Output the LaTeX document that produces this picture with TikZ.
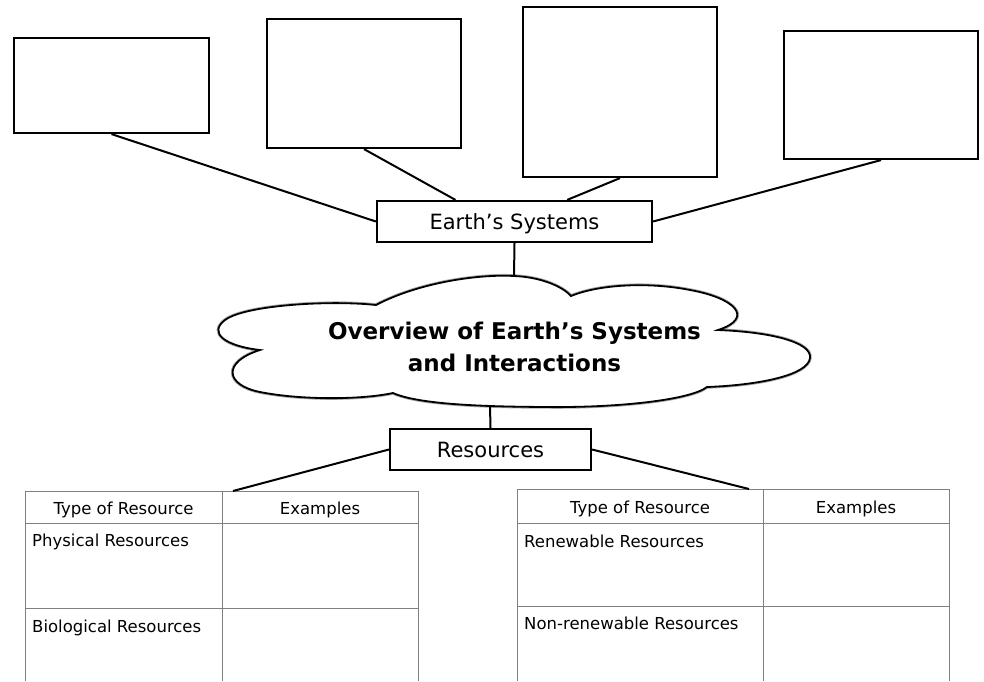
\documentclass[tikz,border=0pt]{standalone}
\usepackage{fontspec}
\setmainfont{DejaVu Sans}
\usetikzlibrary{calc}
\tikzset{
  blankbox/.style={draw, line width=2.2pt, minimum width=194pt, inner sep=0pt},
  labelbox/.style={draw, line width=2.2pt, inner sep=0pt, minimum height=41pt,
    text height=16pt, text depth=0pt, font=\fontsize{21}{25}\selectfont},
  link/.style={line width=2pt},
  tablerule/.style={draw=black!50, line width=0.9pt},
  cellhead/.style={anchor=base, inner sep=0pt, font=\fontsize{16.5}{19}\selectfont},
  celltext/.style={anchor=base west, inner sep=0pt, font=\fontsize{16.5}{19}\selectfont},
}
\begin{document}
\begin{tikzpicture}[x=1pt, y=-1pt]
      \useasboundingbox (0,0) rectangle (984,681);
      \node[blankbox, minimum width=195pt, minimum height=95pt] (box1) at (111.5,85.5) {};
      \node[blankbox, minimum height=129pt] (box2) at (364,83.5) {};
      \node[blankbox, minimum height=170pt] (box3) at (620,92) {};
      \node[blankbox, minimum height=128pt] (box4) at (881,95) {};
      \node[labelbox, minimum width=275pt] (earth) at (514.5,221.5) {Earth’s Systems};
      \node[labelbox, minimum width=201pt] (res) at (490.5,449.5) {Resources};
      \draw[line width=3.5pt, black!35]
        (376,305) .. controls (420,282) and (480,274) .. (514,276)
        .. controls (540,277) and (562,286) .. (571,296)
        .. controls (600,284) and (650,282) .. (690,290)
        .. controls (735,298) and (755,318) .. (718,330)
        .. controls (770,332) and (812,342) .. (810,358)
        .. controls (808,375) and (760,385) .. (707,387)
        .. controls (690,400) and (620,407) .. (560,407)
        .. controls (490,407) and (420,405) .. (393,393)
        .. controls (360,400) and (300,400) .. (260,392)
        .. controls (225,385) and (222,362) .. (260,350)
        .. controls (225,346) and (208,333) .. (225,320)
        .. controls (245,305) and (330,300) .. (376,305) -- cycle;
      \draw[line width=1.8pt, fill=white]
        (376,305) .. controls (420,282) and (480,274) .. (514,276)
        .. controls (540,277) and (562,286) .. (571,296)
        .. controls (600,284) and (650,282) .. (690,290)
        .. controls (735,298) and (755,318) .. (718,330)
        .. controls (770,332) and (812,342) .. (810,358)
        .. controls (808,375) and (760,385) .. (707,387)
        .. controls (690,400) and (620,407) .. (560,407)
        .. controls (490,407) and (420,405) .. (393,393)
        .. controls (360,400) and (300,400) .. (260,392)
        .. controls (225,385) and (222,362) .. (260,350)
        .. controls (225,346) and (208,333) .. (225,320)
        .. controls (245,305) and (330,300) .. (376,305) -- cycle;
      \node[align=center, inner sep=0pt, font=\fontsize{23}{32}\selectfont\bfseries] (title)
        at (514.5,347) {Overview of Earth’s Systems\\and Interactions};
      \coordinate (cloudtop) at (514,276);
      \coordinate (cloudbot) at (490,406);
      \coordinate (lefttab) at (233,491);
      \coordinate (righttab) at (749,489);
      \draw[tablerule] (25,681) -- (25,491) -- (418,491) -- (418,681);
      \draw[tablerule] (222,491) -- (222,681);
      \draw[tablerule] (25,523) -- (418,523);
      \draw[tablerule] (25,608) -- (418,608);
      \draw[tablerule] (517,681) -- (517,489) -- (949,489) -- (949,681);
      \draw[tablerule] (763,489) -- (763,681);
      \draw[tablerule] (517,523) -- (949,523);
      \draw[tablerule] (517,606) -- (949,606);
      \node[cellhead] (lhead1) at (123.5,514) {Type of Resource};
      \node[cellhead] (lhead2) at (320,514) {Examples};
      \node[celltext] (phys) at (32,546) {Physical Resources};
      \node[celltext] (bio) at (32,632) {Biological Resources};
      \node[cellhead] (rhead1) at (640,513) {Type of Resource};
      \node[cellhead] (rhead2) at (856,513) {Examples};
      \node[celltext] (renew) at (524,547) {Renewable Resources};
      \node[celltext] (nonrenew) at (524,629) {Non-renewable Resources};
      \begin{scope}[link]
        \draw (box1.south) to (earth.west);
        \draw (box2.south) to ($(earth.north west)!.287!(earth.north east)$);
        \draw (box3.south) to ($(earth.north west)!.69!(earth.north east)$);
        \draw (box4.south) to (earth.east);
        \draw (earth.south) to (cloudtop);
        \draw (cloudbot) to (res.north);
        \draw (res.west) to (lefttab);
        \draw (res.east) to (righttab);
      \end{scope}
    \end{tikzpicture}
\end{document}
